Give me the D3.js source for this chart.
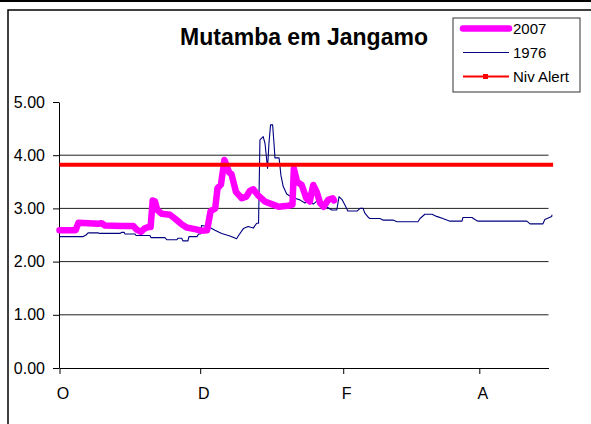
<!DOCTYPE html>
<html>
<head>
<meta charset="utf-8">
<script src="https://cdn.jsdelivr.net/npm/d3@7"></script>
<style>
  html, body { margin: 0; padding: 0; background: #fff; }
  svg { display: block; font-family: "Liberation Sans", Arial, sans-serif; }
</style>
</head>
<body>
<main></main>
<script>
const width = 591;
const height = 424;

// x axis in days from 1 October, ticks every second month
const monthTicks = [0, 61, 123, 182];
const monthLabels = ["O", "D", "F", "A"];
const levelTicks = [0, 1, 2, 3, 4, 5];
const gridLevels = [1, 2, 3, 4];

const days2007 = [0, 7, 8.2, 12.5, 16.8, 18.3, 19.7, 27, 32, 33.5, 35.3, 36.8, 38.5, 39.5, 40.4, 41.4, 42.4, 44.3, 47.9, 50, 52.7, 55.1, 58.7, 61.6, 64, 65.5, 67.5, 68.5, 70, 71.5, 72.5, 73.5, 74.5, 76.5, 79, 81, 82.5, 84, 86, 89, 92, 95, 99, 101, 101.6, 103, 105, 107, 108.5, 110, 111.5, 113, 114.5, 116.5, 118.5, 119];
const level2007 = [2.59, 2.59, 2.73, 2.72, 2.71, 2.72, 2.68, 2.67, 2.67, 2.6, 2.56, 2.62, 2.65, 2.65, 3.15, 3.13, 2.97, 2.9, 2.88, 2.81, 2.71, 2.64, 2.61, 2.58, 2.59, 2.95, 3.0, 3.38, 3.45, 3.91, 3.8, 3.68, 3.65, 3.31, 3.19, 3.22, 3.33, 3.36, 3.25, 3.13, 3.08, 3.03, 3.05, 3.07, 3.75, 3.5, 3.44, 3.19, 3.13, 3.44, 3.31, 3.1, 3.03, 3.16, 3.19, 3.15];

const days1976 = [0, 10.3, 11.5, 12.4, 16.7, 17.5, 26.2, 27, 28, 28.4, 32.7, 33.2, 39.2, 39.7, 45.7, 46.6, 50.9, 51.4, 53, 53.5, 55.7, 56.1, 59.6, 60.3, 61.1, 61.6, 63, 65.2, 67.4, 70.3, 73.9, 76.8, 77.5, 79.7, 81.8, 84, 85.5, 86.3, 86.9, 88.3, 89.1, 90.2, 90.8, 91.5, 92.4, 93, 93.4, 95.2, 96, 97, 98.5, 100.7, 102.1, 104.2, 106.4, 108.6, 110, 112.2, 113.7, 115.8, 118, 120.2, 121.2, 122.6, 123.8, 125, 129, 130.3, 131.6, 132.4, 133.9, 134.6, 138.9, 140.2, 144.6, 146.3, 155.4, 156.3, 158.4, 161.5, 163.5, 166.2, 169.3, 174.5, 174.9, 178.8, 180.1, 181.4, 202.6, 204, 209.6, 210.4, 213.4, 213.5];
const level1976 = [2.47, 2.47, 2.5, 2.54, 2.54, 2.53, 2.53, 2.55, 2.55, 2.52, 2.52, 2.49, 2.49, 2.45, 2.45, 2.41, 2.41, 2.44, 2.44, 2.39, 2.39, 2.47, 2.47, 2.52, 2.52, 2.68, 2.67, 2.64, 2.59, 2.53, 2.48, 2.43, 2.48, 2.62, 2.66, 2.63, 2.72, 2.72, 4.29, 4.35, 4.22, 3.75, 4.22, 4.57, 4.57, 4.22, 3.95, 3.95, 3.62, 3.41, 3.27, 3.21, 3.19, 3.16, 3.1, 3.16, 3.08, 3.16, 3.06, 3.03, 2.97, 2.97, 3.22, 3.16, 3.06, 2.95, 2.95, 3.0, 3.0, 2.91, 2.83, 2.81, 2.81, 2.78, 2.78, 2.75, 2.75, 2.81, 2.89, 2.89, 2.85, 2.81, 2.76, 2.76, 2.83, 2.83, 2.79, 2.76, 2.76, 2.71, 2.71, 2.79, 2.85, 2.88];

const alertDays = [0, 214];
const alertLevel = [3.82, 3.82];

const seriesNames = ["2007", "1976", "Niv Alert"];
const seriesColors = ["#ff00ff", "#000080", "#ff0000"];
const seriesWidths = [6.5, 1.1, 4];

const svg = d3
  .select("main")
  .append("svg")
  .attr("width", width)
  .attr("height", height);

// outer frame
svg.append("line")
  .attr("x1", 0).attr("x2", width)
  .attr("y1", 1).attr("y2", 1)
  .attr("stroke", "#000").attr("stroke-width", 2);
svg.append("rect")
  .attr("x", 8).attr("y", 10)
  .attr("width", width).attr("height", height)
  .attr("fill", "none")
  .attr("stroke", "#000").attr("stroke-width", 1.5);

const x = d3.scaleLinear().domain([0, 212]).range([59.5, 548.5]);
const y = d3.scaleLinear().domain([0, 5]).range([368, 102]);

svg.append("text")
  .attr("x", 304).attr("y", 45)
  .attr("text-anchor", "middle")
  .attr("font-size", 23)
  .attr("font-weight", "bold")
  .text("Mutamba em Jangamo");

// gridlines
svg.append("g")
  .selectAll("line")
  .data(gridLevels)
  .enter()
  .append("line")
  .attr("x1", x(0))
  .attr("x2", x(212))
  .attr("y1", (d) => y(d))
  .attr("y2", (d) => y(d))
  .attr("stroke", "#222")
  .attr("stroke-width", 1);

const yAxis = d3
  .axisLeft(y)
  .tickValues(levelTicks)
  .tickFormat(d3.format(".2f"))
  .tickSize(6)
  .tickSizeOuter(0)
  .tickPadding(8);

const yG = svg.append("g").attr("transform", "translate(59,0)").call(yAxis);
yG.selectAll("text")
  .attr("font-size", 16)
  .attr("font-family", "Liberation Sans, Arial, sans-serif")
  .attr("fill", "#000");

const xAxis = d3
  .axisBottom(x)
  .tickValues(monthTicks)
  .tickFormat((d, i) => monthLabels[i])
  .tickSize(6)
  .tickSizeOuter(0)
  .tickPadding(14);

const xG = svg.append("g").attr("transform", "translate(0,368)").call(xAxis);
xG.selectAll("text")
  .attr("font-size", 16)
  .attr("font-family", "Liberation Sans, Arial, sans-serif")
  .attr("fill", "#000")
  .attr("dx", 3);

const line = d3
  .line()
  .x((d) => x(d[0]))
  .y((d) => y(d[1]));

const series = [
  d3.zip(days2007, level2007),
  d3.zip(days1976, level1976),
  d3.zip(alertDays, alertLevel),
];

// draw 1976 under 2007, alert on top
[1, 0, 2].forEach((i) => {
  svg.append("path")
    .datum(series[i])
    .attr("d", line)
    .attr("fill", "none")
    .attr("stroke", seriesColors[i])
    .attr("stroke-width", seriesWidths[i])
    .attr("stroke-linejoin", "round")
    .attr("stroke-linecap", i === 0 ? "round" : "butt");
});

// legend
const legend = svg.append("g").attr("transform", "translate(453,18)");
legend.append("rect")
  .attr("width", 127).attr("height", 74)
  .attr("fill", "#fff")
  .attr("stroke", "#333").attr("stroke-width", 1);

const item = legend
  .selectAll("g.item")
  .data(seriesNames)
  .enter()
  .append("g")
  .attr("class", "item")
  .attr("transform", (_, i) => `translate(0, ${10.5 + i * 24})`);

item.append("line")
  .attr("x1", 10).attr("x2", 56)
  .attr("stroke", (_, i) => seriesColors[i])
  .attr("stroke-width", (_, i) => [6.5, 1, 2][i])
  .attr("stroke-linecap", (_, i) => (i === 0 ? "round" : "butt"));

item.filter((_, i) => i === 2)
  .append("rect")
  .attr("x", 30).attr("y", -2.5)
  .attr("width", 5).attr("height", 5)
  .attr("fill", "#ff0000");

item.append("text")
  .attr("x", 60).attr("y", 5.8)
  .attr("font-size", 15)
  .text((d) => d);
</script>
</body>
</html>
